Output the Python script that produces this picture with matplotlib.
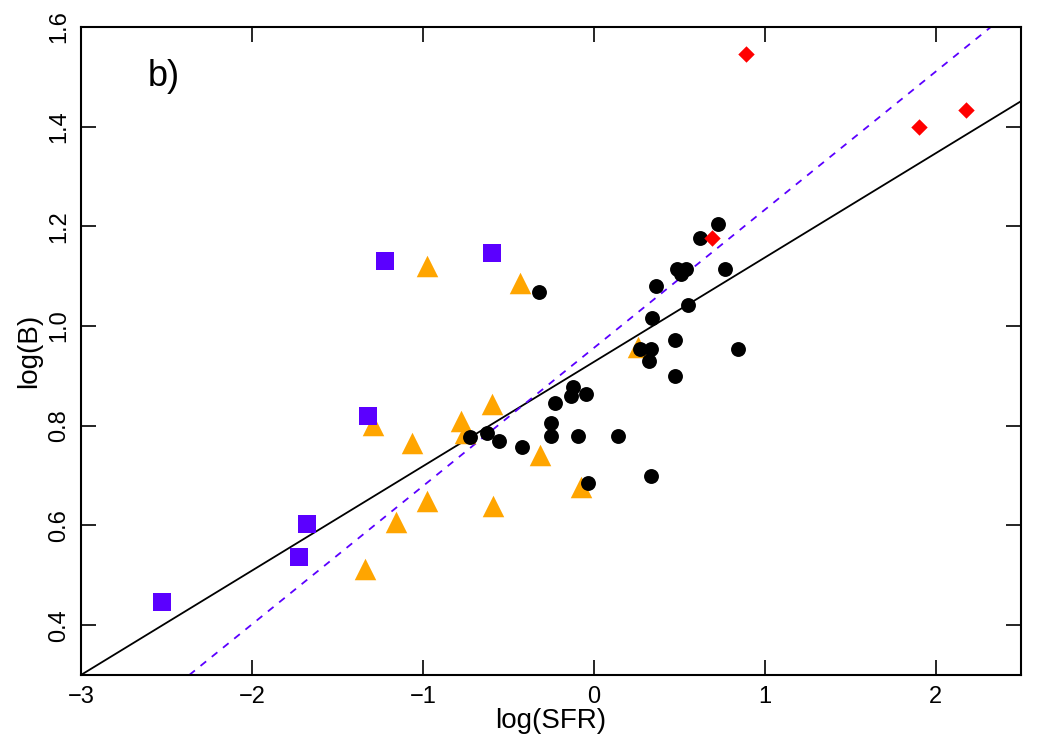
import numpy as np
import matplotlib.pyplot as plt

plt.rcParams['font.family'] = ['Liberation Sans', 'DejaVu Sans']

# squares (purple)
sq_x = [-2.525, -1.725, -1.678, -1.320, -1.222, -0.598]
sq_y = [0.446, 0.536, 0.603, 0.820, 1.131, 1.147]

# triangles (orange)
tri_x = [-0.973, -0.433, -1.294, -1.062, -0.774, -0.754, -0.594, -0.316,
         -0.973, -1.158, -0.589, -0.072, 0.259, -1.339]
tri_y = [1.120, 1.086, 0.802, 0.765, 0.810, 0.785, 0.844, 0.741,
         0.649, 0.607, 0.639, 0.677, 0.959, 0.512]

# circles (black)
circ_x = [-0.320, -0.725, -0.622, -0.554, -0.421, -0.251, -0.251, -0.224,
          -0.135, -0.123, -0.047, -0.095, 0.144, -0.031, 0.333, 0.273,
          0.335, 0.323, 0.474, 0.474, 0.343, 0.366, 0.554, 0.489, 0.542,
          0.509, 0.768, 0.842, 0.620, 0.727]
circ_y = [1.068, 0.778, 0.786, 0.769, 0.757, 0.806, 0.779, 0.845,
          0.860, 0.877, 0.863, 0.779, 0.779, 0.686, 0.699, 0.954,
          0.954, 0.929, 0.972, 0.899, 1.017, 1.080, 1.042, 1.115, 1.115,
          1.105, 1.115, 0.954, 1.177, 1.205]

# diamonds (red)
dia_x = [0.692, 0.893, 1.902, 2.175]
dia_y = [1.177, 1.545, 1.399, 1.433]

# fitted lines
fit_b, fit_m = 0.928, 0.2093
eq_b, eq_m = 0.956, 0.2772

purple = '#5B00FF'

fig = plt.figure(figsize=(10.48, 7.5), dpi=100)
ax = fig.add_axes([0.0773, 0.1, 0.897, 0.864])

ax.axline((0, fit_b), slope=fit_m, color='black', lw=1.3, zorder=1)
ax.axline((0, eq_b), slope=eq_m, color=purple, lw=1.3, ls=(0, (4, 4)), zorder=1)

ax.scatter(tri_x, tri_y, marker='^', s=240, color='#FFA500', lw=0, zorder=2)
ax.scatter(sq_x, sq_y, marker='s', s=150, color=purple, lw=0, zorder=3)
ax.scatter(circ_x, circ_y, marker='o', s=115, color='black', lw=0, zorder=3)
ax.scatter(dia_x, dia_y, marker='D', s=70, color='red', lw=0, zorder=3)

ax.set_xlim(-3, 2.5)
ax.set_ylim(0.3, 1.6)
ax.set_xticks([-3, -2, -1, 0, 1, 2])
ax.set_xticklabels(['\u22123', '\u22122', '\u22121', '0', '1', '2'])
ax.set_yticks([0.4, 0.6, 0.8, 1.0, 1.2, 1.4, 1.6])
ax.tick_params(direction='in', length=11, width=1.2, labelsize=17,
               top=True, right=True, pad=8)
for lab in ax.get_yticklabels():
    lab.set_rotation(90)
    lab.set_va('center')
for sp in ax.spines.values():
    sp.set_linewidth(1.5)

ax.set_xlabel('log(SFR)', fontsize=20, labelpad=0)
ax.set_ylabel('log(B)', fontsize=20, labelpad=4)
ax.text(0.088, 0.924, 'b)', transform=ax.transAxes, fontsize=26,
        ha='center', va='center')

fig.savefig('out.png', dpi=100)
